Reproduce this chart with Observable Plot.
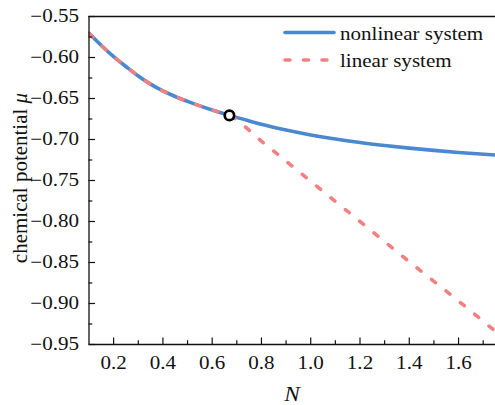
<!DOCTYPE html>
<html>
<head>
<meta charset="utf-8">
<script src="https://cdn.jsdelivr.net/npm/d3@7"></script>
<script src="https://cdn.jsdelivr.net/npm/@observablehq/plot@0.6"></script>
<style>
  body { margin: 0; background: #fff; }
  svg { display: block; }
  #chart svg, #chart svg text { font-family: "Liberation Serif", "Times New Roman", serif !important; }
</style>
</head>
<body>
<div id="chart"></div>
<script>
// Chemical potential μ against particle number N
const nNonlinear = [0.10, 0.15, 0.20, 0.25, 0.30, 0.35, 0.40, 0.45, 0.50, 0.55, 0.60, 0.67,
                    0.75, 0.80, 0.90, 1.00, 1.10, 1.20, 1.30, 1.40, 1.50, 1.60, 1.75];
const muNonlinear = [-0.5705, -0.5854, -0.5990, -0.6110, -0.6225, -0.6325, -0.6408, -0.6476,
                     -0.6535, -0.6590, -0.6641, -0.6706, -0.6774, -0.6815, -0.6885, -0.6945,
                     -0.6995, -0.7037, -0.7073, -0.7105, -0.7133, -0.7158, -0.7190];

const nLinear = [0.10, 0.15, 0.20, 0.25, 0.30, 0.35, 0.40, 0.45, 0.50, 0.55, 0.60, 0.67,
                 0.80, 1.00, 1.20, 1.40, 1.60, 1.75];
const muLinear = [-0.5705, -0.5854, -0.5990, -0.6110, -0.6225, -0.6325, -0.6408, -0.6476,
                  -0.6535, -0.6590, -0.6641, -0.6706, -0.7020, -0.7510, -0.8000, -0.8490,
                  -0.8970, -0.9340];

// point where the two systems separate
const splitN = [0.67];
const splitMu = [-0.6706];

const seriesNames = ["nonlinear system", "linear system"];
const seriesColors = ["#4a88cf", "#f28080"];

const xDomain = [0.1, 1.75];
const yDomain = [-0.95, -0.55];
const xMajor = [0.2, 0.4, 0.6, 0.8, 1.0, 1.2, 1.4, 1.6];
const xMinor = [0.3, 0.5, 0.7, 0.9, 1.1, 1.3, 1.5, 1.7];
const yMajor = [-0.95, -0.90, -0.85, -0.80, -0.75, -0.70, -0.65, -0.60, -0.55];
const yMinor = [-0.925, -0.875, -0.825, -0.775, -0.725, -0.675, -0.625, -0.575];

const ink = "#111";
const serif = "Liberation Serif";

const chart = Plot.plot({
  width: 495,
  height: 405,
  marginLeft: 88.5,
  marginRight: 0,
  marginTop: 16,
  marginBottom: 61,
  style: { fontFamily: serif, fontSize: "18px", color: ink, background: "#fff" },
  x: { domain: xDomain },
  y: { domain: yDomain },
  marks: [
    // curves
    Plot.line(nNonlinear, { x: nNonlinear, y: muNonlinear, stroke: seriesColors[0], strokeWidth: 3.6,
                            curve: "monotone-x", clip: true }),
    Plot.line(nLinear, { x: nLinear, y: muLinear, stroke: seriesColors[1], strokeWidth: 3.6,
                         curve: "monotone-x", strokeDasharray: "5,13.5", strokeLinecap: "round", clip: true }),
    Plot.dot(splitN, { x: splitN, y: splitMu, r: 4.7, fill: "#fff", stroke: "#000", strokeWidth: 2.7 }),
    // inward ticks
    Plot.axisY({ ticks: yMajor, tickSize: 6.5, dx: 6.5, text: null, stroke: ink, strokeWidth: 1.2 }),
    Plot.axisY({ ticks: yMinor, tickSize: 3.8, dx: 3.8, text: null, stroke: ink, strokeWidth: 1.2 }),
    Plot.axisX({ ticks: xMajor, tickSize: 6.5, dy: -6.5, text: null, stroke: ink, strokeWidth: 1.2 }),
    Plot.axisX({ ticks: xMinor, tickSize: 3.8, dy: -3.8, text: null, stroke: ink, strokeWidth: 1.2 }),
    // tick labels
    Plot.axisY({ ticks: yMajor, tickSize: 0, tickPadding: 10, tickFormat: d3.format(".2f"), label: null,
                 fill: ink, fontFamily: serif }),
    Plot.axisX({ ticks: xMajor, tickSize: 0, tickPadding: 12, tickFormat: d3.format(".1f"), label: null,
                 fill: ink, fontFamily: serif }),
    // axis lines (left, bottom, top)
    Plot.ruleX([xDomain[0]], { stroke: ink, strokeWidth: 1.3 }),
    Plot.ruleY(yDomain, { stroke: ink, strokeWidth: 1.3 })
  ]
});

document.getElementById("chart").appendChild(chart);

const svg = d3.select(chart);

// axis titles
const yTitle = svg.append("text")
  .attr("transform", "translate(27,178) rotate(-90)")
  .attr("text-anchor", "middle")
  .attr("font-size", 21)
  .attr("fill", ink);
yTitle.append("tspan").text("chemical potential ");
yTitle.append("tspan").attr("font-style", "italic").text("μ");

svg.append("text")
  .attr("class", "wide")
  .attr("transform", "translate(292,401)")
  .attr("text-anchor", "middle")
  .attr("font-size", 20)
  .attr("font-style", "italic")
  .attr("fill", ink)
  .text("N");

// legend
const legend = svg.append("g");
const rows = [
  { name: seriesNames[0], color: seriesColors[0], dash: null, y: 32.5, base: 39.5 },
  { name: seriesNames[1], color: seriesColors[1], dash: "5,13.5", y: 60, base: 66.5 }
];
rows.forEach(r => {
  legend.append("line")
    .attr("x1", 285).attr("x2", 334)
    .attr("y1", r.y).attr("y2", r.y)
    .attr("stroke", r.color)
    .attr("stroke-width", 3.6)
    .attr("stroke-linecap", "round")
    .attr("stroke-dasharray", r.dash);
  legend.append("text")
    .attr("class", "wide")
    .attr("transform", `translate(340,${r.base})`)
    .attr("text-anchor", "start")
    .attr("font-size", 18)
    .attr("fill", ink)
    .text(r.name);
});

// the serif face is set a little wider than its natural advance
const widen = 1.17;
svg.selectAll("[aria-label='y-axis tick label'] text, [aria-label='x-axis tick label'] text, text.wide")
  .each(function () {
    const t = this.getAttribute("transform") || "";
    const x = +(this.getAttribute("x") || 0);
    this.setAttribute("transform", `${t} translate(${x},0) scale(${widen},1) translate(${-x},0)`);
  });
</script>
</body>
</html>
